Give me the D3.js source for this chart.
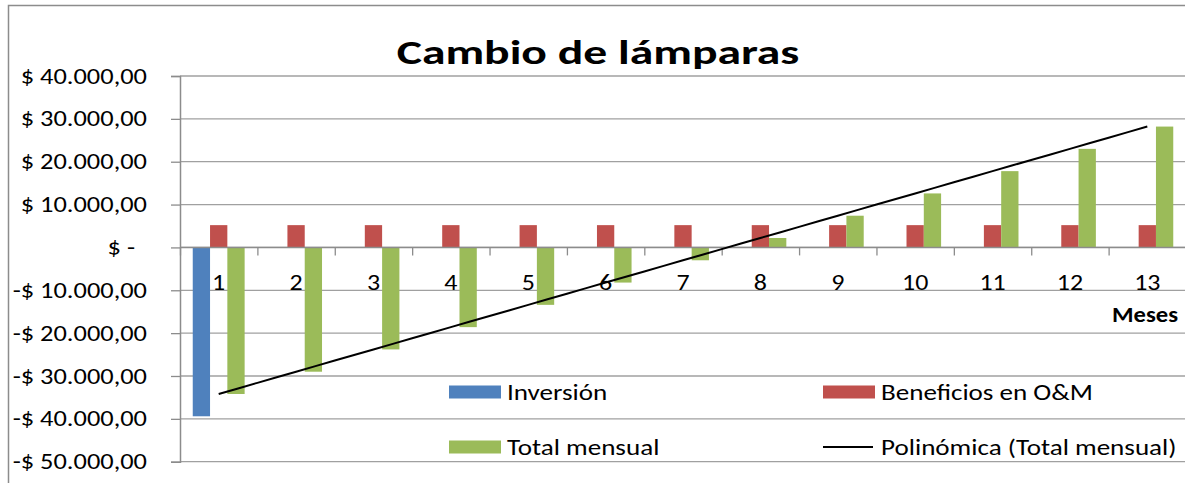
<!DOCTYPE html>
<html>
<head>
<meta charset="utf-8">
<script src="https://cdn.jsdelivr.net/npm/d3@7"></script>
<style>
  body { margin: 0; background: #fff; }
  svg text { font-family: Carlito, Calibri, Lato, sans-serif; fill: #000; }
</style>
</head>
<body>
<svg id="chart" width="1185" height="483"></svg>
<script>
// Data
var months = ["1", "2", "3", "4", "5", "6", "7", "8", "9", "10", "11", "12", "13"];
var inversion = [-39400, 0, 0, 0, 0, 0, 0, 0, 0, 0, 0, 0, 0];
var beneficios = [5200, 5200, 5200, 5200, 5200, 5200, 5200, 5200, 5200, 5200, 5200, 5200, 5200];
var totalMensual = [-34200, -29000, -23800, -18600, -13400, -8200, -3000, 2200, 7400, 12600, 17800, 23000, 28200];
var yTicks = [-50000, -40000, -30000, -20000, -10000, 0, 10000, 20000, 30000, 40000];

var seriesNames = ["Inversión", "Beneficios en O&M", "Total mensual"];
var seriesValues = [inversion, beneficios, totalMensual];
var colors = ["#4F81BD", "#C0504D", "#9BBB59"];

var svg = d3.select("#chart");

// the reference text is a bit wider than the font, stretch it a little
function stretch(sel, k) {
  sel.each(function() {
    var w = this.getComputedTextLength();
    d3.select(this).attr("textLength", w * k).attr("lengthAdjust", "spacingAndGlyphs");
  });
}

// chart frame (right and bottom edges fall outside the picture)
svg.append("rect")
  .attr("x", 8.5).attr("y", 5.5)
  .attr("width", 1200).attr("height", 500)
  .attr("fill", "#fff")
  .attr("stroke", "#8c8c8c")
  .attr("stroke-width", 1.5);

var plotLeft = 180, plotRight = 1186, plotTop = 76, plotBottom = 461.7;

var x = d3.scaleBand().domain(months).range([plotLeft, plotRight]);
var xSeries = d3.scaleBand().domain(seriesNames).range([0, x.bandwidth()]).paddingOuter(0.737);
var y = d3.scaleLinear().domain([-50000, 40000]).range([plotBottom, plotTop]);

// spanish currency format
var locale = d3.formatLocale({
  decimal: ",", thousands: ".", grouping: [3], currency: ["$ ", ""], minus: "-"
});
var money = locale.format("$,.2f");

// gridlines
svg.append("g")
  .selectAll("line")
  .data(yTicks)
  .enter()
  .append("line")
  .attr("x1", plotLeft).attr("x2", plotRight)
  .attr("y1", d => y(d)).attr("y2", d => y(d))
  .attr("stroke", "#a0a0a0")
  .attr("stroke-width", 1.3);

// y axis
var yAxis = svg.append("g")
  .attr("transform", "translate(" + plotLeft + ",0)")
  .call(d3.axisLeft(y).tickValues(yTicks).tickSize(9).tickPadding(24)
    .tickFormat(d => d === 0 ? "$ -" : money(d)));
yAxis.select(".domain").attr("stroke", "#8c8c8c").attr("stroke-width", 1.5);
yAxis.selectAll(".tick line").attr("stroke", "#8c8c8c").attr("stroke-width", 1.3);
var yText = yAxis.selectAll(".tick text")
  .style("font-size", "22px")
  .attr("x", d => d === 0 ? -45 : -33);

// bars
seriesNames.forEach(function(name, s) {
  svg.append("g")
    .selectAll("rect")
    .data(seriesValues[s].map((v, i) => ({ m: months[i], v: v })).filter(d => d.v !== 0))
    .enter()
    .append("rect")
    .attr("x", d => x(d.m) + xSeries(name))
    .attr("width", xSeries.bandwidth())
    .attr("y", d => y(Math.max(0, d.v)))
    .attr("height", d => Math.abs(y(d.v) - y(0)))
    .attr("fill", colors[s]);
});

// x axis: tick marks on category boundaries
var xb = d3.scaleLinear().domain([0, 13]).range([plotLeft, plotRight]);
var xAxis = svg.append("g")
  .attr("transform", "translate(0," + y(0) + ")")
  .call(d3.axisBottom(xb).ticks(13).tickSize(8).tickFormat(""));
xAxis.select(".domain").attr("stroke", "#8c8c8c").attr("stroke-width", 1.5)
  .attr("d", "M" + plotLeft + ",0H" + plotRight);
xAxis.selectAll(".tick line").attr("stroke", "#8c8c8c").attr("stroke-width", 1.3);

// category labels
var xLab = svg.append("g")
  .attr("transform", "translate(0," + y(0) + ")")
  .call(d3.axisBottom(x).tickSize(0));
xLab.select(".domain").remove();
var xText = xLab.selectAll(".tick text")
  .style("font-size", "22px")
  .attr("y", 43).attr("dy", null);

// polynomial (order 2) trendline of the monthly total
function polyFit(ys) {
  var s = [0, 0, 0, 0, 0], t = [0, 0, 0];
  ys.forEach(function(v, i) {
    var xi = i + 1;
    for (var k = 0; k < 5; k++) s[k] += Math.pow(xi, k);
    for (var k = 0; k < 3; k++) t[k] += v * Math.pow(xi, k);
  });
  var A = [[s[0], s[1], s[2], t[0]], [s[1], s[2], s[3], t[1]], [s[2], s[3], s[4], t[2]]];
  for (var i = 0; i < 3; i++) {
    for (var j = i + 1; j < 3; j++) {
      var f = A[j][i] / A[i][i];
      for (var k = i; k < 4; k++) A[j][k] -= f * A[i][k];
    }
  }
  var c = [0, 0, 0];
  for (var i = 2; i >= 0; i--) {
    var sum = A[i][3];
    for (var k = i + 1; k < 3; k++) sum -= A[i][k] * c[k];
    c[i] = sum / A[i][i];
  }
  return xi => c[0] + c[1] * xi + c[2] * xi * xi;
}
var trend = polyFit(totalMensual);
var trendPts = d3.range(1, 13.01, 0.25);
svg.append("path")
  .datum(trendPts)
  .attr("fill", "none")
  .attr("stroke", "#000")
  .attr("stroke-width", 2)
  .attr("d", d3.line()
    .x(d => xb(d - 0.5))
    .y(d => y(trend(d))));

// title and axis title
var title = svg.append("text")
  .attr("x", 598).attr("y", 64)
  .attr("text-anchor", "middle")
  .style("font-size", "34px").style("font-weight", "bold")
  .text("Cambio de lámparas");

var xTitle = svg.append("text")
  .attr("x", 1178).attr("y", 322)
  .attr("text-anchor", "end")
  .style("font-size", "22px").style("font-weight", "bold")
  .text("Meses");

// legend (transparent, inside the plot)
var legendItems = [
  { name: "Inversión", color: colors[0], px: 449, py: 392, line: false },
  { name: "Beneficios en O&M", color: colors[1], px: 823, py: 392, line: false },
  { name: "Total mensual", color: colors[2], px: 449, py: 447, line: false },
  { name: "Polinómica (Total mensual)", color: "#000", px: 823, py: 447, line: true }
];
var legend = svg.append("g")
  .selectAll("g")
  .data(legendItems)
  .enter()
  .append("g")
  .attr("transform", d => "translate(" + d.px + "," + d.py + ")");
legend.filter(d => !d.line).append("rect")
  .attr("x", 0).attr("y", -6.5).attr("width", 52).attr("height", 13)
  .attr("fill", d => d.color);
legend.filter(d => d.line).append("line")
  .attr("x1", 0).attr("x2", 50).attr("y1", 0).attr("y2", 0)
  .attr("stroke", "#000").attr("stroke-width", 2);
var legendText = legend.append("text")
  .attr("x", 58).attr("dy", "0.35em")
  .style("font-size", "22px")
  .text(d => d.name);

stretch(title, 1.4);
stretch(xTitle, 1.12);
stretch(legendText, 1.23);
stretch(yText, 1.2);
stretch(xText, 1.18);
</script>
</body>
</html>
